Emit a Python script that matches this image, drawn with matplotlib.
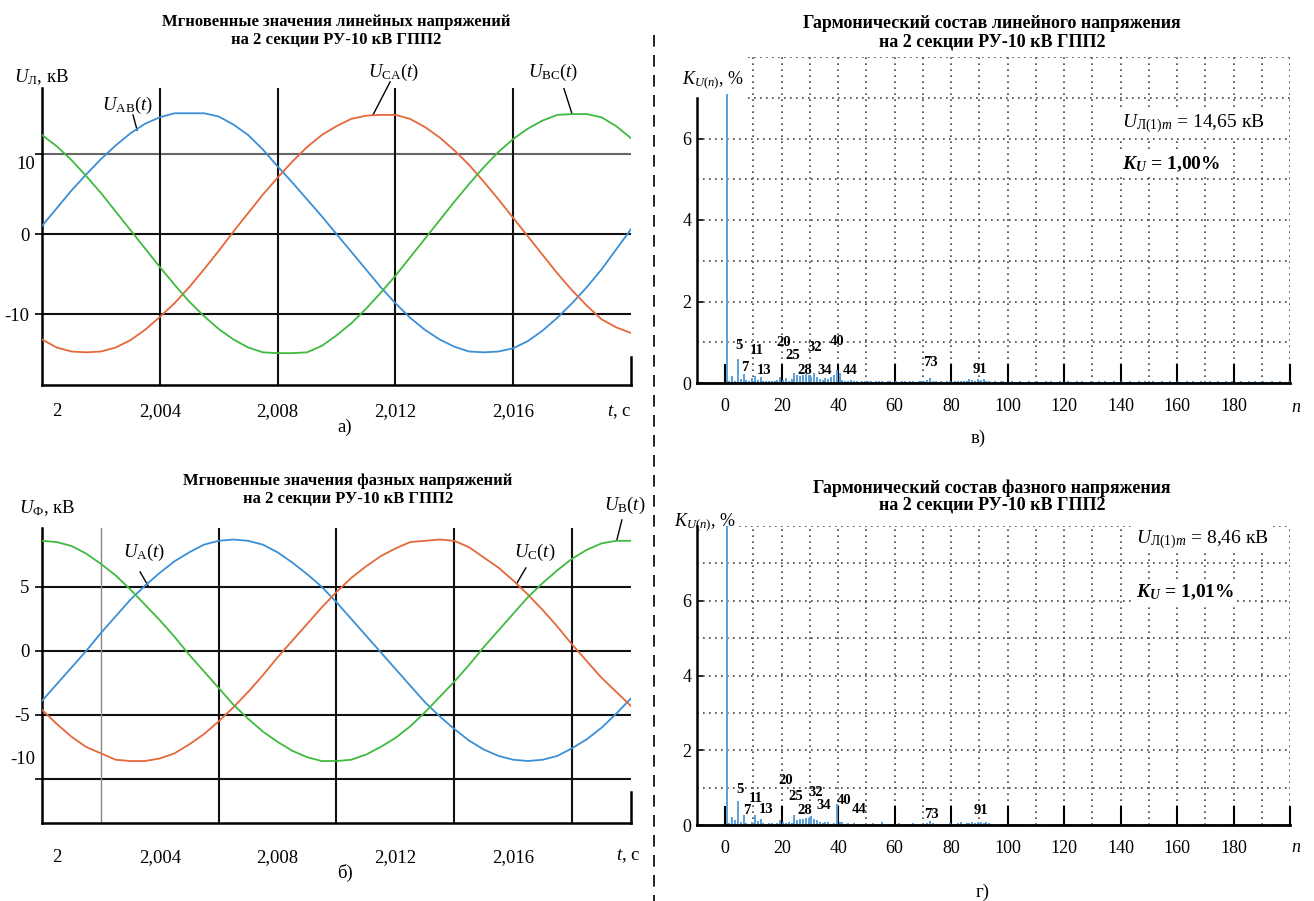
import numpy as np
import matplotlib
matplotlib.use("Agg")
import matplotlib.pyplot as plt
from matplotlib.lines import Line2D

## fonts: serif like the scanned original, Cyrillic included
plt.rcParams['font.family'] = ['Liberation Serif', 'DejaVu Serif']
plt.rcParams['mathtext.fontset'] = 'custom'
plt.rcParams['mathtext.rm'] = 'Liberation Serif'
plt.rcParams['mathtext.it'] = 'Liberation Serif:italic'
plt.rcParams['mathtext.bf'] = 'Liberation Serif:italic:bold'

W, H = 1314, 901

######### data
time_s = [2.0000, 2.0005, 2.0010, 2.0015, 2.0020, 2.0025, 2.0030, 2.0035, 2.0040, 2.0045,
          2.0050, 2.0055, 2.0060, 2.0065, 2.0070, 2.0075, 2.0080, 2.0085, 2.0090, 2.0095,
          2.0100, 2.0105, 2.0110, 2.0115, 2.0120, 2.0125, 2.0130, 2.0135, 2.0140, 2.0145,
          2.0150, 2.0155, 2.0160, 2.0165, 2.0170, 2.0175, 2.0180, 2.0185, 2.0190, 2.0195,
          2.0200]

## line voltages, kV
u_ab = [1.0, 3.2, 5.4, 7.4, 9.3, 11.0, 12.5, 13.7, 14.5, 15.0, 15.0, 15.0, 14.6, 13.6,
        12.3, 10.5, 8.4, 6.4, 4.3, 2.2, 0.0, -2.2, -4.4, -6.6, -8.6, -10.4, -11.9, -13.1,
        -14.0, -14.6, -14.7, -14.6, -14.2, -13.3, -12.0, -10.4, -8.6, -6.6, -4.4, -1.9, 0.6]
u_bc = [12.3, 10.9, 9.2, 7.2, 5.1, 2.8, 0.5, -1.8, -4.1, -6.3, -8.4, -10.2, -11.8, -13.1,
        -14.1, -14.7, -14.8, -14.8, -14.7, -13.9, -12.6, -11.1, -9.3, -7.3, -5.2, -2.9, -0.6,
        1.7, 4.0, 6.2, 8.3, 10.2, 11.8, 13.1, 14.1, 14.8, 14.9, 14.9, 14.5, 13.4, 11.9]
u_ca = [-13.1, -14.1, -14.6, -14.7, -14.6, -14.1, -13.2, -11.9, -10.3, -8.6, -6.6, -4.4,
        -2.1, 0.3, 2.6, 4.9, 7.0, 9.0, 10.8, 12.3, 13.4, 14.3, 14.7, 14.8, 14.8, 14.3, 13.3,
        12.0, 10.4, 8.6, 6.5, 4.3, 2.0, -0.3, -2.6, -4.9, -7.0, -8.9, -10.6, -11.6, -12.3]

## phase voltages, kV
u_a = [-3.9, -2.6, -1.3, 0.0, 1.4, 2.7, 4.0, 5.1, 6.1, 7.0, 7.7, 8.3, 8.6, 8.7, 8.6, 8.3,
       7.7, 6.9, 6.0, 5.0, 3.8, 2.5, 1.2, -0.1, -1.4, -2.7, -4.0, -5.1, -6.1, -7.0, -7.7,
       -8.2, -8.5, -8.6, -8.5, -8.2, -7.6, -6.9, -6.0, -4.9, -3.7]
u_b = [8.6, 8.5, 8.2, 7.6, 6.8, 5.9, 4.8, 3.6, 2.4, 1.1, -0.3, -1.6, -2.9, -4.2, -5.3, -6.3,
       -7.1, -7.8, -8.3, -8.6, -8.6, -8.5, -8.1, -7.5, -6.8, -5.9, -4.8, -3.6, -2.4, -1.1,
       0.3, 1.6, 2.9, 4.2, 5.3, 6.3, 7.2, 7.9, 8.4, 8.6, 8.6]
u_c = [-4.6, -5.7, -6.7, -7.5, -8.0, -8.5, -8.6, -8.6, -8.4, -8.0, -7.3, -6.5, -5.5, -4.4,
       -3.2, -1.9, -0.5, 0.8, 2.1, 3.4, 4.6, 5.7, 6.6, 7.4, 8.0, 8.5, 8.6, 8.7, 8.6, 8.1,
       7.3, 6.5, 5.5, 4.4, 3.2, 1.9, 0.5, -0.8, -2.1, -3.2, -4.3]

## harmonic content K_U(n), %  (harmonics 1..200, fundamental shown clipped)
harmonics = np.arange(1, 201)
k_line = [7.1, 0.04, 0.18, 0.06, 0.59, 0.10, 0.22, 0.07, 0.05, 0.12,
          0.18, 0.07, 0.14, 0.05, 0.05, 0.04, 0.06, 0.05, 0.08, 0.14,
          0.07, 0.12, 0.06, 0.10, 0.24, 0.20, 0.18, 0.20, 0.22, 0.20,
          0.15, 0.24, 0.14, 0.10, 0.07, 0.12, 0.10, 0.15, 0.20, 0.32,
          0.25, 0.07, 0.05, 0.06, 0.07, 0.04, 0.05, 0.03, 0.04, 0.05,
          0.04, 0.05, 0.03, 0.06, 0.04, 0.05, 0.03, 0.04, 0.05, 0.03,
          0.04, 0.03, 0.05, 0.04, 0.03, 0.04, 0.05, 0.03, 0.04, 0.06,
          0.05, 0.08, 0.12, 0.06, 0.04, 0.03, 0.04, 0.03, 0.05, 0.04,
          0.03, 0.04, 0.05, 0.04, 0.06, 0.05, 0.09, 0.07, 0.06, 0.10,
          0.08, 0.11, 0.06, 0.04, 0.03, 0.04, 0.03, 0.05, 0.04, 0.03,
          0.03, 0.04, 0.03, 0.03, 0.04, 0.03, 0.03, 0.04, 0.03, 0.03,
          0.04, 0.03, 0.03, 0.04, 0.03, 0.04, 0.03, 0.03, 0.04, 0.03,
          0.03, 0.04, 0.03, 0.03, 0.04, 0.03, 0.04, 0.03, 0.03, 0.04,
          0.03, 0.03, 0.04, 0.03, 0.04, 0.03, 0.03, 0.04, 0.03, 0.03,
          0.04, 0.03, 0.03, 0.04, 0.03, 0.03, 0.04, 0.03, 0.04, 0.03,
          0.03, 0.04, 0.03, 0.03, 0.04, 0.03, 0.03, 0.04, 0.03, 0.03,
          0.04, 0.03, 0.03, 0.04, 0.03, 0.04, 0.03, 0.03, 0.04, 0.03,
          0.03, 0.04, 0.03, 0.03, 0.04, 0.03, 0.03, 0.04, 0.03, 0.04,
          0.03, 0.03, 0.04, 0.03, 0.03, 0.04, 0.03, 0.04, 0.03, 0.03,
          0.04, 0.03, 0.03, 0.04, 0.03, 0.03, 0.04, 0.03, 0.03, 0.04]
k_phase = [8.0, 0.05, 0.22, 0.13, 0.63, 0.07, 0.27, 0.05, 0.04, 0.09,
           0.26, 0.10, 0.16, 0.05, 0.04, 0.05, 0.06, 0.04, 0.06, 0.13,
           0.07, 0.05, 0.09, 0.06, 0.28, 0.13, 0.17, 0.15, 0.20, 0.19,
           0.24, 0.17, 0.13, 0.09, 0.05, 0.07, 0.07, 0.04, 0.05, 0.56,
           0.09, 0.07, 0.04, 0.06, 0.04, 0.05, 0.03, 0.04, 0.03, 0.04,
           0.03, 0.04, 0.05, 0.03, 0.04, 0.07, 0.03, 0.04, 0.03, 0.04,
           0.03, 0.05, 0.04, 0.03, 0.04, 0.03, 0.05, 0.03, 0.04, 0.03,
           0.04, 0.06, 0.10, 0.05, 0.03, 0.04, 0.03, 0.04, 0.03, 0.05,
           0.04, 0.03, 0.05, 0.08, 0.04, 0.05, 0.06, 0.08, 0.05, 0.07,
           0.09, 0.06, 0.08, 0.05, 0.04, 0.03, 0.04, 0.03, 0.04, 0.03,
           0.03, 0.04, 0.03, 0.04, 0.03, 0.03, 0.04, 0.03, 0.03, 0.04,
           0.03, 0.03, 0.04, 0.03, 0.04, 0.03, 0.03, 0.04, 0.03, 0.03,
           0.04, 0.03, 0.03, 0.04, 0.03, 0.03, 0.04, 0.03, 0.04, 0.03,
           0.03, 0.04, 0.03, 0.03, 0.04, 0.03, 0.03, 0.04, 0.03, 0.03,
           0.04, 0.03, 0.04, 0.03, 0.03, 0.04, 0.03, 0.03, 0.04, 0.03,
           0.03, 0.04, 0.03, 0.03, 0.04, 0.03, 0.04, 0.03, 0.03, 0.04,
           0.03, 0.03, 0.04, 0.03, 0.03, 0.04, 0.03, 0.04, 0.03, 0.03,
           0.04, 0.03, 0.03, 0.04, 0.03, 0.03, 0.04, 0.03, 0.03, 0.04,
           0.03, 0.04, 0.03, 0.03, 0.04, 0.03, 0.03, 0.04, 0.03, 0.03,
           0.04, 0.03, 0.03, 0.04, 0.03, 0.04, 0.03, 0.03, 0.04, 0.03]

## harmonic orders written on the spectra
marked = ['5', '7', '11', '13', '20', '25', '28', '32', '34', '40', '44', '73', '91']

u1m_line = '14,65'
u1m_phase = '8,46'
thd_line = '1,00%'
thd_phase = '1,01%'

time_ticks = ['2', '2,004', '2,008', '2,012', '2,016']

BLUE = '#3a8fd6'
ORANGE = '#e5683a'
GREEN = '#3fba3f'
BAR = '#5aa0d8'
DOT = (0, (1, 2.6))

######### helpers (pixel layout of the original sheet)
fig = plt.figure(figsize=(W / 100.0, H / 100.0), dpi=100)


def axes_px(left, top, right, bottom):
    return fig.add_axes((left / W, 1 - bottom / H, (right - left) / W, (bottom - top) / H))


def ftext(x, y, s, **kw):
    kw.setdefault('ha', 'center')
    kw.setdefault('va', 'center')
    fig.text(x / W, 1 - y / H, s, **kw)


def wave_axes(ax, ylim, stub_top):
    ax.set_xlim(2.0, 2.02)
    ax.set_ylim(*ylim)
    ax.spines['top'].set_visible(False)
    ax.spines['right'].set_bounds(ylim[0], stub_top)
    for s in ['left', 'bottom', 'right']:
        ax.spines[s].set_linewidth(1.8)
    ax.tick_params(axis='y', direction='out', length=5, width=1.2, labelsize=13.5, pad=4)
    ax.tick_params(axis='x', length=0, labelsize=13.5)


def spec_axes(ax, values, spine_top, grid_top_start, xpad):
    ax.set_xlim(-10, 200)
    ax.set_ylim(0, 8)
    ax.spines['top'].set_visible(False)
    ax.spines['right'].set_visible(False)
    ax.spines['left'].set_bounds(0, spine_top)
    ax.spines['left'].set_linewidth(1.8)
    ax.spines['bottom'].set_linewidth(2.0)
    ## dotted grid
    for y in range(1, 9):
        x0 = -10 if y < 7 else grid_top_start[y]
        ax.hlines(y, x0, 200, colors='#444', linestyles=DOT, lw=1.2, zorder=1)
    for x in range(10, 201, 10):
        ax.vlines(x, 0, 8, colors='#444', linestyles=DOT, lw=1.2, zorder=1)
    ## spectrum bars
    ax.vlines(harmonics - 0.5, 0, values, colors=BAR, lw=1.4, zorder=2)
    ax.set_xticks(range(0, 201, 20))
    ax.set_xticklabels([str(v) for v in range(0, 181, 20)] + [''])
    ax.tick_params(axis='x', direction='in', length=14, width=1.5, labelsize=13, pad=xpad)
    ax.set_yticks([0, 2, 4, 6])
    ax.tick_params(axis='y', direction='in', length=4, width=1.2, labelsize=13, pad=4)


######### panel a) line voltages
ax1 = axes_px(42, 88, 631, 385)
wave_axes(ax1, (-18.76, 18.14), -15.3)
ax1.axhline(10, color='#666', lw=1.5, zorder=1)
ax1.axhline(0, color='#111', lw=1.5, zorder=1)
ax1.axhline(-10, color='#111', lw=1.5, zorder=1)
for t in [2.004, 2.008, 2.012, 2.016]:
    ax1.axvline(t, color='#111', lw=1.5, zorder=1)
ax1.plot(time_s, u_ab, color=BLUE, lw=1.3, zorder=3)
ax1.plot(time_s, u_ca, color=ORANGE, lw=1.3, zorder=3)
ax1.plot(time_s, u_bc, color=GREEN, lw=1.3, zorder=3)
ax1.set_yticks([-10, 0, 10])
ax1.set_yticklabels(['-10', '0', ''])
ax1.text(-0.012, 8.6, '10', transform=ax1.get_yaxis_transform(), ha='right', va='center', fontsize=13.5)
ax1.set_xticks([2.0005, 2.004, 2.008, 2.012, 2.016])
ax1.set_xticklabels(time_ticks)
ax1.tick_params(axis='x', pad=13)
ax1.text(2.0196, -0.09, '$t$, с', transform=ax1.get_xaxis_transform(), ha='center', va='center', fontsize=13.5)

## curve labels with leaders
ax1.text(2.00289, 16.0, r'$U_{\mathrm{AB}}(t)$', ha='center', va='center', fontsize=13.5)
ax1.plot([2.00309, 2.00323], [14.8, 12.9], color='k', lw=1.0)
ax1.text(2.01195, 20.1, r'$U_{\mathrm{CA}}(t)$', ha='center', va='center', fontsize=13.5)
ax1.plot([2.01182, 2.01124], [18.9, 14.8], color='k', lw=1.0, clip_on=False)
ax1.text(2.01735, 20.1, r'$U_{\mathrm{BC}}(t)$', ha='center', va='center', fontsize=13.5)
ax1.plot([2.01772, 2.0180], [18.1, 14.9], color='k', lw=1.0)

ftext(336, 22, 'Мгновенные значения линейных напряжений', fontsize=12, fontweight='bold')
ftext(336, 40, 'на 2 секции РУ-10 кВ ГПП2', fontsize=12, fontweight='bold')
ftext(42, 77, r'$U_{\mathrm{Л}}$, кВ', fontsize=13.5)
ftext(345, 427, 'а)', fontsize=13.5)

######### panel b) phase voltages
ax2 = axes_px(42, 528, 631, 823)
wave_axes(ax2, (-13.44, 9.6), -11.0)
for v in [5, 0, -5, -10]:
    ax2.axhline(v, color='#111', lw=1.5, zorder=1)
ax2.axvline(2.002, color='#888', lw=1.0, zorder=1)
for t in [2.006, 2.010, 2.014, 2.018]:
    ax2.axvline(t, color='#111', lw=1.5, zorder=1)
ax2.plot(time_s, u_a, color=BLUE, lw=1.3, zorder=3)
ax2.plot(time_s, u_c, color=ORANGE, lw=1.3, zorder=3)
ax2.plot(time_s, u_b, color=GREEN, lw=1.3, zorder=3)
ax2.set_yticks([-10, -5, 0, 5])
ax2.set_yticklabels(['', '-5', '0', '5'])
ax2.text(-0.012, -8.5, '-10', transform=ax2.get_yaxis_transform(), ha='right', va='center', fontsize=13.5)
ax2.set_xticks([2.0005, 2.004, 2.008, 2.012, 2.016])
ax2.set_xticklabels(time_ticks)
ax2.tick_params(axis='x', pad=19)
ax2.text(2.0199, -0.112, '$t$, с', transform=ax2.get_xaxis_transform(), ha='center', va='center', fontsize=13.5)

ax2.text(2.00346, 7.66, r'$U_{\mathrm{A}}(t)$', ha='center', va='center', fontsize=13.5)
ax2.plot([2.00333, 2.0036], [6.17, 5.1], color='k', lw=1.0)
ax2.text(2.01674, 7.66, r'$U_{\mathrm{C}}(t)$', ha='center', va='center', fontsize=13.5)
ax2.plot([2.01643, 2.01613], [6.48, 5.31], color='k', lw=1.0)
ax2.text(2.0198, 11.4, r'$U_{\mathrm{B}}(t)$', ha='center', va='center', fontsize=13.5)
ax2.plot([2.01969, 2.01952], [10.23, 8.67], color='k', lw=1.0, clip_on=False)

ftext(348, 481, 'Мгновенные значения фазных напряжений', fontsize=12, fontweight='bold')
ftext(348, 499, 'на 2 секции РУ-10 кВ ГПП2', fontsize=12, fontweight='bold')
ftext(47, 508, r'$U_{\mathrm{Ф}}$, кВ', fontsize=13.5)
ftext(345, 873, 'б)', fontsize=13.5)

######### panel v) harmonic content of line voltage
ax3 = axes_px(697, 57, 1290, 383)
spec_axes(ax3, k_line, 7.0, {7: 8, 8: 8}, 11)
pos_line = [(4.8, 0.92), (7.0, 0.39), (11.0, 0.80), (13.9, 0.30), (20.7, 1.00), (24.0, 0.67),
            (28.2, 0.30), (31.8, 0.88), (35.4, 0.30), (39.5, 1.02), (44.3, 0.30), (72.7, 0.50),
            (90.2, 0.33)]
for lab, (x, y) in zip(marked, pos_line):
    ax3.text(x, y, lab, ha='center', va='center', fontsize=10.5, fontweight='bold', zorder=4)
ftext(1296, 407, '$n$', fontsize=13)
box = dict(facecolor='white', edgecolor='none', pad=1.5)
ax3.text(0.717, 0.795, r'$U_{\mathrm{Л}(1)m}$ = ' + u1m_line + ' кВ', transform=ax3.transAxes,
         ha='left', va='center', fontsize=14, bbox=box, zorder=5)
ax3.text(0.717, 0.672, r'$\mathbf{K_U}$ = ' + thd_line, transform=ax3.transAxes,
         ha='left', va='center', fontsize=14, fontweight='bold', bbox=box, zorder=5)

ftext(992, 23, 'Гармонический состав линейного напряжения', fontsize=13, fontweight='bold')
ftext(992, 42, 'на 2 секции РУ-10 кВ ГПП2', fontsize=13, fontweight='bold')
ftext(713, 80, r'$K_{U(n)}$, %', fontsize=13)
ftext(978, 438, 'в)', fontsize=13.5)

######### panel g) harmonic content of phase voltage
ax4 = axes_px(697, 526, 1290, 825)
spec_axes(ax4, k_phase, 8.0, {7: -10, 8: 5}, 11)
pos_phase = [(5.3, 0.96), (7.5, 0.39), (10.9, 0.70), (14.4, 0.41), (21.3, 1.20), (24.9, 0.77),
             (28.2, 0.39), (32.0, 0.87), (34.9, 0.52), (42.0, 0.65), (47.3, 0.42), (73.0, 0.27),
             (90.6, 0.40)]
for lab, (x, y) in zip(marked, pos_phase):
    ax4.text(x, y, lab, ha='center', va='center', fontsize=10.5, fontweight='bold', zorder=4)
ftext(1296, 847, '$n$', fontsize=13)
ax4.text(0.74, 0.955, r'$U_{\mathrm{Л}(1)m}$ = ' + u1m_phase + ' кВ', transform=ax4.transAxes,
         ha='left', va='center', fontsize=14, bbox=box, zorder=5)
ax4.text(0.74, 0.78, r'$\mathbf{K_U}$ = ' + thd_phase, transform=ax4.transAxes,
         ha='left', va='center', fontsize=14, fontweight='bold', bbox=box, zorder=5)

ftext(992, 488, 'Гармонический состав фазного напряжения', fontsize=13, fontweight='bold')
ftext(992, 505, 'на 2 секции РУ-10 кВ ГПП2', fontsize=13, fontweight='bold')
ftext(705, 522, r'$K_{U(n)}$, %', fontsize=13)
ftext(983, 892, 'г)', fontsize=13.5)

## dashed separator between the columns
fig.add_artist(Line2D([654.0 / W, 654.0 / W], [1 - 35.0 / H, 0.0], ls=(0, (7, 5)), color='k', lw=1.2))

fig.savefig('out.png', dpi=100)
